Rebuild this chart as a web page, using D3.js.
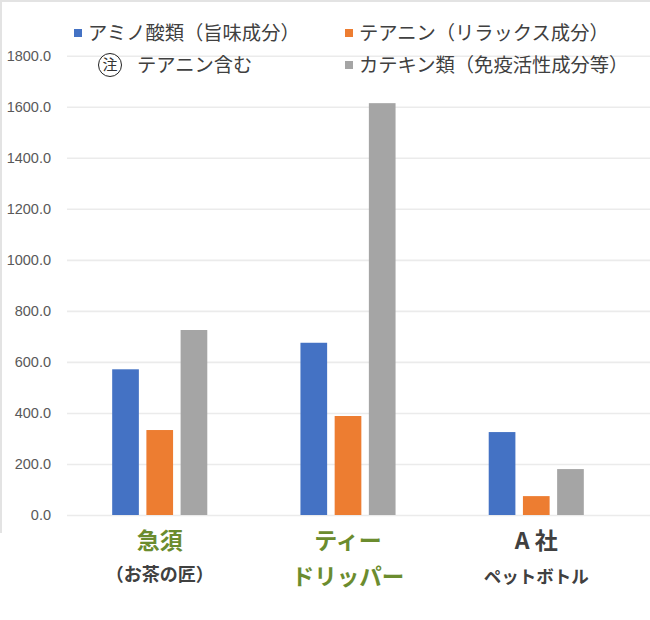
<!DOCTYPE html>
<html>
<head>
<meta charset="utf-8">
<script src="https://cdn.jsdelivr.net/npm/d3@7"></script>
<style>
  html, body { margin: 0; padding: 0; background: #fff; }
  svg { display: block; }
</style>
</head>
<body>
<svg id="chart" width="650" height="620"></svg>
<script>
const categories = ["急須", "ティードリッパー", "A社"];
const catLine1 = ["急須", "ティー", "A 社"];
const catLine2 = ["（お茶の匠）", "ドリッパー", "ペットボトル"];
const seriesNames = ["アミノ酸類（旨味成分）", "テアニン（リラックス成分）", "カテキン類（免疫活性成分等）"];
const aminoValues = [571, 675, 325];
const theanineValues = [333, 388, 74];
const catechinValues = [725, 1614, 180];
const yTicks = [0, 200, 400, 600, 800, 1000, 1200, 1400, 1600, 1800];
const noteText = "テアニン含む";

const colors = ["#4472c4", "#ed7d31", "#a5a5a5"];
const seriesValues = [aminoValues, theanineValues, catechinValues];

const svg = d3.select("#chart");
const W = 650;
const jp = "'Noto Sans CJK JP', 'Noto Sans', sans-serif";

// frame borders
svg.append("rect").attr("x", 0).attr("y", 0).attr("width", W).attr("height", 2).attr("fill", "#e3e3e3");
svg.append("rect").attr("x", 0).attr("y", 0).attr("width", 2).attr("height", 533).attr("fill", "#e3e3e3");

const y = d3.scaleLinear().domain([0, 1800]).range([515, 55.7]);
const x = d3.scaleBand().domain(categories).range([65.6, 630.4]).paddingInner(0).paddingOuter(0);
const groupW = 95.1;
const xs = d3.scaleBand().domain(d3.range(3)).range([0, groupW]).paddingInner(0.22).paddingOuter(0);

// gridlines
const gridAxis = d3.axisLeft(y).tickValues(yTicks).tickSize(-(W - 67)).tickFormat("");
const grid = svg.append("g").attr("transform", "translate(67,0)").call(gridAxis);
grid.select(".domain").remove();
grid.selectAll("line").attr("stroke", "#ebebeb").attr("stroke-width", 1.6);

// y tick labels
const yAxis = d3.axisLeft(y).tickValues(yTicks).tickSize(0).tickPadding(0).tickFormat(d3.format(".1f"));
const ya = svg.append("g").attr("transform", "translate(51,0)").call(yAxis);
ya.select(".domain").remove();
ya.selectAll("text").attr("fill", "#595959").attr("font-size", "14.5px")
  .attr("font-family", "'Liberation Sans', Arial, sans-serif");

// bars
const bars = svg.append("g");
categories.forEach((c, ci) => {
  const gx = x(c) + x.bandwidth() / 2 - groupW / 2;
  seriesValues.forEach((vals, si) => {
    bars.append("rect")
      .attr("x", gx + xs(si))
      .attr("y", y(vals[ci]))
      .attr("width", xs.bandwidth())
      .attr("height", y(0) - y(vals[ci]))
      .attr("fill", colors[si]);
  });
});

// category labels
const labelColors1 = ["#6b8c2e", "#6b8c2e", "#404040"];
const labelColors2 = ["#404040", "#6b8c2e", "#404040"];
const labelSizes1 = ["23px", "23px", "23px"];
const labelSizes2 = ["18px", "22.5px", "17.5px"];
const labelY2 = [575, 577, 577];
categories.forEach((c, ci) => {
  const cx = x(c) + x.bandwidth() / 2;
  svg.append("text").attr("x", cx).attr("y", 541).attr("dy", "0.36em")
    .attr("text-anchor", "middle").attr("font-family", jp).attr("font-weight", "bold")
    .attr("font-size", labelSizes1[ci]).attr("fill", labelColors1[ci]).text(catLine1[ci]);
  svg.append("text").attr("x", cx).attr("y", labelY2[ci]).attr("dy", "0.36em")
    .attr("text-anchor", "middle").attr("font-family", jp).attr("font-weight", "bold")
    .attr("font-size", labelSizes2[ci]).attr("fill", labelColors2[ci]).text(catLine2[ci]);
});

// legend
const legendItems = [
  { name: seriesNames[0], color: colors[0], x: 74, y: 33 },
  { name: seriesNames[1], color: colors[1], x: 345, y: 33 },
  { name: seriesNames[2], color: colors[2], x: 345, y: 65 }
];
const lg = svg.append("g");
legendItems.forEach(it => {
  lg.append("rect").attr("x", it.x).attr("y", it.y - 4).attr("width", 8).attr("height", 8).attr("fill", it.color);
  lg.append("text").attr("x", it.x + 14).attr("y", it.y).attr("dy", "0.36em")
    .attr("font-family", jp).attr("font-size", "19.3px").attr("fill", "#404040").text(it.name);
});
// note
lg.append("circle").attr("cx", 110).attr("cy", 65).attr("r", 11.5)
  .attr("fill", "#fff").attr("stroke", "#222").attr("stroke-width", 1);
lg.append("text").attr("x", 110).attr("y", 65).attr("dy", "0.36em").attr("text-anchor", "middle")
  .attr("font-family", jp).attr("font-size", "15px").attr("fill", "#333").text("注");
lg.append("text").attr("x", 137).attr("y", 65).attr("dy", "0.36em")
  .attr("font-family", jp).attr("font-size", "19.3px").attr("fill", "#404040").text(noteText);
</script>
</body>
</html>
